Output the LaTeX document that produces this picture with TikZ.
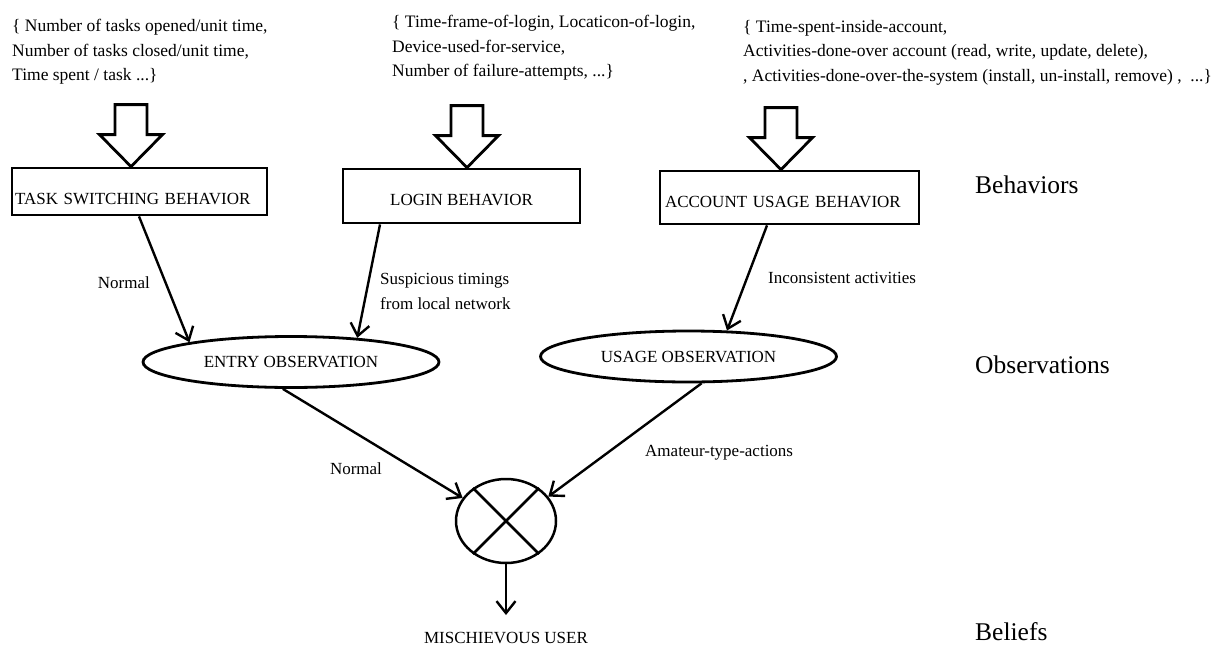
\documentclass[tikz,border=0pt]{standalone}
\usepackage{fontspec}
\setmainfont{Liberation Serif}
\usetikzlibrary{shapes.geometric,arrows.meta}
% wide hollow arrow whose tip sits at the given point
\newcommand\hollowdown[1]{\draw[hollow] #1 -- ++(-31.5,-32) -- ++(15.5,0) -- ++(0,-30) -- ++(32,0) -- ++(0,30) -- ++(15.5,0) -- cycle;}
\begin{document}
\begin{tikzpicture}[x=1pt,y=-1pt,
  every node/.style={font=\fontsize{17}{24.5}\selectfont},
  behbox/.style={draw, rectangle, line width=2.8pt, inner ysep=0pt, text depth=0pt},
  obs/.style={draw, ellipse, line width=2.8pt, inner sep=0pt, minimum width=296pt, minimum height=51pt},
  conn/.style={line width=2.4pt, -{Straight Barb[length=12pt,width=19pt]}},
  hollow/.style={draw, line width=2.8pt, line join=miter},
  info/.style={align=left, anchor=north west, inner sep=0pt, font=\fontsize{17.5}{24.5}\selectfont},
  lbl/.style={inner sep=0pt},
  level/.style={font=\fontsize{25.5}{30}\selectfont, anchor=west, inner sep=0pt}]
\useasboundingbox (0,0) rectangle (1213,651);

% attribute lists
\node[info] (i1) at (12,19) {\{ Number of tasks opened/unit time,\\Number of tasks closed/unit time,\\Time spent / task ...\}};
\node[info] (i2) at (392,15) {\{ Time-frame-of-login, Locaticon-of-login,\\Device-used-for-service,\\Number of failure-attempts, ...\}};
\node[info] (i3) at (743,20) {\{ Time-spent-inside-account,\\Activities-done-over account (read, write, update, delete),\\, Activities-done-over-the-system (install, un-install, remove) ,\ \ ...\}};

% behaviours
\node[behbox, inner xsep=3pt, text width=249pt, align=left, minimum height=47pt, text height=25pt] (tsb) at (139.5,191.5) {TASK SWITCHING BEHAVIOR};
\node[behbox, minimum width=237pt, minimum height=54pt, text height=19pt] (lb) at (461.5,196) {LOGIN BEHAVIOR};
\node[behbox, inner xsep=5pt, text width=249pt, align=left, minimum height=53pt, text height=20pt] (aub) at (789.5,197.5) {ACCOUNT USAGE BEHAVIOR};

\hollowdown{([xshift=-8.5pt]tsb.north)}
\hollowdown{([xshift=5.5pt]lb.north)}
\hollowdown{([xshift=-8.5pt]aub.north)}

% observations
\node[obs] (eo) at (291,362) {ENTRY OBSERVATION};
\node[obs] (uo) at (688.5,356.5) {USAGE OBSERVATION};

% belief combination
\node[draw, ellipse, line width=2.5pt, minimum width=100pt, minimum height=84pt, inner sep=0pt] (mix) at (506,521) {};
\draw[line width=2.5pt] (mix.45) -- (mix.225) (mix.135) -- (mix.315);
\node[lbl] (mu) at (506,638) {MISCHIEVOUS USER};

% connectors
\draw[conn] ([xshift=-0.5pt]tsb.south) -- (eo.169);
\draw[conn] ([xshift=-81.5pt]lb.south) -- (eo.20);
\draw[conn] ([xshift=-22.5pt]aub.south) -- (uo.34);
\draw[conn] (eo.-107) -- (mix.152);
\draw[conn] (uo.-64) -- (mix.30);
\draw[conn, shorten >=17pt] (mix.south) -- (mu.north);

% connector labels
\node[lbl, anchor=east] (ln1) at (150,283) {Normal};
\node[lbl, anchor=west, align=left] (ls) at (380,291.5) {Suspicious timings\\from local network};
\node[lbl, anchor=west] (li) at (768,278) {Inconsistent activities};
\node[lbl] (ln2) at (356,469) {Normal};
\node[lbl, anchor=west] (la) at (645,453) {Amateur-type-actions};

% levels
\node[level] (lvb) at (975,185) {Behaviors};
\node[level] (lvo) at (975,365) {Observations};
\node[level] (lvbel) at (975,632) {Beliefs};
\end{tikzpicture}
\end{document}
